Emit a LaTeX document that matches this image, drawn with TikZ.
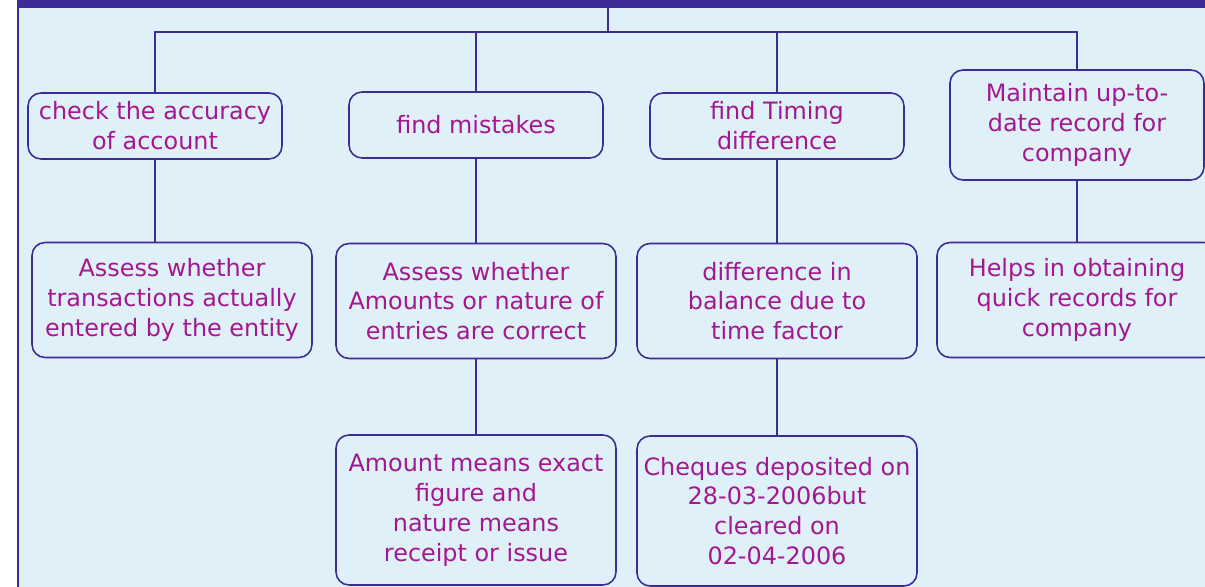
\documentclass[tikz,border=0pt]{standalone}
\usepackage{fontspec}
\setmainfont{DejaVu Sans}
\usetikzlibrary{positioning}

\definecolor{bandblue}{HTML}{3E2C96}
\definecolor{paleblue}{HTML}{E0F0F9}
\definecolor{textpink}{HTML}{A3188F}

\begin{document}
\begin{tikzpicture}[
  x=0.02cm,
  y=-0.02cm,
  link/.style={draw=bandblue, line width=0.9pt},
  card/.style={draw=bandblue, line width=0.9pt, rounded corners=0.26cm, align=center,
    text=textpink, inner sep=0pt, font=\fontsize{13.6}{17}\selectfont},
  small/.style={card, minimum width=5.08cm, minimum height=1.32cm},
  wide/.style={card, minimum width=5.6cm, minimum height=2.3cm},
  tall/.style={card, minimum width=5.6cm, minimum height=3cm}
  ]
    % page
    \clip (0,0) rectangle (1205,587);
    \fill[paleblue] (18,0) rectangle (1205,587);
    \fill[bandblue] (18,0) rectangle (1205,8);
    \draw[bandblue, line width=0.9pt] (18,0) -- (18,587);

    \coordinate (top) at (608,8);
    \coordinate (bus) at (608,32);

% first row
\node[small] (accuracy) at (155,126) {check the accuracy\\of account};
\node[small] (mistakes) at (476,125) {find mistakes};
\node[small] (timing) at (777,126) {find Timing\\difference};
\node[card, minimum width=5.08cm, minimum height=2.2cm] (record) at (1077,125) {Maintain up-to-\\date record for\\company};

% second row
\node[wide] (entered) at (172,300) {Assess whether\\transactions actually\\entered by the entity};
\node[wide] (correct) at (476,301) {Assess whether\\Amounts or nature of\\entries are correct};
\node[wide] (factor) at (777,301) {difference in\\balance due to\\time factor};
\node[wide] (quick) at (1077,300) {Helps in obtaining\\quick records for\\company};

% third row
\node[tall] (amount) at (476,510) {Amount means exact\\figure and\\nature means\\receipt or issue};
\node[tall] (cheques) at (777,511) {Cheques deposited on\\28-03-2006but\\cleared on\\02-04-2006};

% links
\draw[link] (top) -- (bus);
\draw[link] (accuracy.north) |- (bus) -| (record.north);
\draw[link] (mistakes.north) -- (mistakes.north |- bus);
\draw[link] (timing.north) -- (timing.north |- bus);

\draw[link] (accuracy.south) -- (accuracy.south |- entered.north);
\draw[link] (mistakes) -- (correct);
\draw[link] (timing) -- (factor);
\draw[link] (record) -- (quick);

\draw[link] (correct) -- (amount);
\draw[link] (factor) -- (cheques);

\end{tikzpicture}
\end{document}
